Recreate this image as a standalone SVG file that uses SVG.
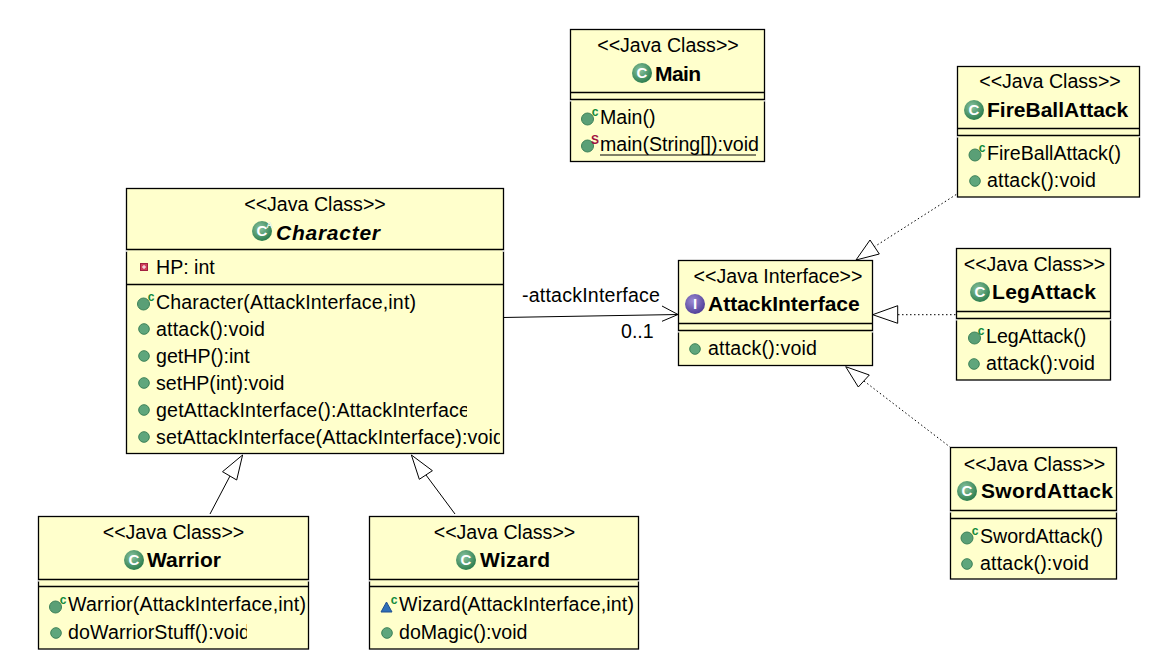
<svg xmlns="http://www.w3.org/2000/svg" width="1173" height="663" viewBox="0 0 1173 663">
<style>
text{font-family:"Liberation Sans",Arial,sans-serif;font-size:19.6px;fill:#000}
.st{text-anchor:middle}
.nm{font-size:21px;font-weight:bold}
.nmi{font-size:21px;font-weight:bold;font-style:italic}
.box{fill:#ffffcc;stroke:#000;stroke-width:1.3}
.sep{stroke:#000;stroke-width:1.3;fill:none}
.gap{stroke:#fff;stroke-width:2;fill:none}
.cn{stroke:#000;stroke-width:1;fill:none}
.dot{stroke:#000;stroke-width:1;fill:none;stroke-dasharray:1.5 2.5}
.tri{stroke:#000;stroke-width:1;fill:#fff}
.ic{font-size:15px;font-weight:bold;fill:#fff;text-anchor:middle}
.sup{font-size:12px;font-weight:bold;text-anchor:middle;fill:#118a3c}
.sup2{font-size:12px;font-weight:bold;text-anchor:middle;fill:#a01040}
</style>
<defs>
<radialGradient id="g" cx="0.4" cy="0.35" r="0.75"><stop offset="0" stop-color="#8cc4a0"/><stop offset="1" stop-color="#1f7342"/></radialGradient>
<radialGradient id="p" cx="0.4" cy="0.35" r="0.75"><stop offset="0" stop-color="#9d8cd4"/><stop offset="1" stop-color="#463590"/></radialGradient>
<g id="cls"><circle r="10" fill="url(#g)"/><text class="ic" y="5.3">C</text></g>
<g id="iface"><circle r="10" fill="url(#p)"/><text class="ic" y="5.300">I</text></g>
<circle id="m" r="5.300" fill="#5fa67c" stroke="#3c8158" stroke-width="1"/>
<circle id="k" r="6" fill="#5a9f76" stroke="#3c8158" stroke-width="1"/>
<clipPath id="c1b"><rect x="130" y="398" width="337" height="26"/></clipPath>
<clipPath id="c2"><rect x="130" y="425" width="370" height="26"/></clipPath>
<clipPath id="c3"><rect x="60" y="620" width="187" height="26"/></clipPath>
</defs>

<g id="connectors">
<path class="cn" d="M503 317.5L678 314.5M662 306L678 314.5L662 321.3"/>
<path class="dot" d="M874 247L957 194"/>
<path class="tri" d="M856 260L879.3 254L870 240Z"/>
<path class="dot" d="M898 314.7H956"/>
<path class="tri" d="M872.7 314.7L897.7 305.7V323.3Z"/>
<path class="dot" d="M864 381L950 447"/>
<path class="tri" d="M845.7 366.7L869.3 375L858.3 387Z"/>
<path class="cn" d="M230 476L210 514"/>
<path class="tri" d="M242.6 455L222.5 471.7L236.7 480Z"/>
<path class="cn" d="M426 475L455 514"/>
<path class="tri" d="M411.4 455L432.4 470.7L419.3 479.3Z"/>
</g>

<g id="node-main">
<rect class="box" x="570.5" y="29.5" width="194" height="132"/>
<path class="sep" d="M570.5 92.5H764.5M570.5 99.5H764.5"/>
<path class="gap" d="M570.5 100.300V101.500M764.500 100.300V101.500"/>
<text class="st" x="668" y="51.500">&lt;&lt;Java Class&gt;&gt;</text>
<use href="#cls" x="642" y="73"/>
<text class="nm" x="655" y="80.7" textLength="46">Main</text>
<use href="#k" x="587.500" y="119"/><text class="sup" x="595" y="116">c</text>
<text x="600" y="124">Main()</text>
<use href="#k" x="587.500" y="146"/><text class="sup2" x="595" y="144">S</text>
<text x="600" y="151">main(String[]):void</text>
<path class="cn" d="M600 155H756"/>
</g>

<g id="node-character">
<rect class="box" x="126.5" y="188.5" width="377" height="265"/>
<path class="sep" d="M126.5 249.5H503.5M126.5 284.5H503.5"/>
<path class="gap" d="M126.5 250.300V251.800M503.500 250.300V251.800"/>
<text class="st" x="315" y="210.7">&lt;&lt;Java Class&gt;&gt;</text>
<use href="#cls" x="262" y="231"/><text class="sup" x="269.500" y="228" style="font-size:9px;fill:#e8f4e8">A</text>
<text class="nmi" x="276" y="239.500" textLength="104">Character</text>
<rect x="140.500" y="263.500" width="7" height="7" fill="#d0405a" stroke="#a02040" stroke-width="1"/>
<path d="M142 267H146M144 265V269" stroke="#fff" stroke-width="1"/>
<text x="156" y="274">HP: int</text>
<use href="#k" x="143.500" y="304"/><text class="sup" x="151" y="301">c</text>
<text x="156" y="309" textLength="260">Character(AttackInterface,int)</text>
<use href="#m" x="144" y="329"/><text x="156" y="335.6" textLength="109">attack():void</text>
<use href="#m" x="144" y="356"/><text x="156" y="362.600">getHP():int</text>
<use href="#m" x="144" y="383"/><text x="156" y="389.600">setHP(int):void</text>
<use href="#m" x="144" y="410"/><text x="156" y="417" clip-path="url(#c1b)" textLength="314">getAttackInterface():AttackInterface</text>
<use href="#m" x="144" y="437"/><text x="156" y="444" clip-path="url(#c2)" textLength="348">setAttackInterface(AttackInterface):void</text>
</g>

<g id="node-warrior">
<rect class="box" x="38.5" y="516.5" width="270" height="132.5"/>
<path class="sep" d="M38.5 579.5H308.5M38.5 586.5H308.500"/>
<path class="gap" d="M38.5 580.300V581.500M308.500 580.300V581.500"/>
<text class="st" x="173.500" y="539">&lt;&lt;Java Class&gt;&gt;</text>
<use href="#cls" x="134" y="560"/>
<text class="nm" x="147" y="567">Warrior</text>
<use href="#k" x="55.500" y="607"/><text class="sup" x="63" y="604">c</text>
<text x="68" y="611" textLength="238">Warrior(AttackInterface,int)</text>
<use href="#m" x="56" y="633"/><text x="68" y="639" clip-path="url(#c3)" textLength="182">doWarriorStuff():void</text>
</g>

<g id="node-wizard">
<rect class="box" x="369.500" y="516.5" width="269" height="132.5"/>
<path class="sep" d="M369.500 579.5H638.5M369.500 586.5H638.500"/>
<path class="gap" d="M369.5 580.300V581.500M638.500 580.300V581.500"/>
<text class="st" x="504.500" y="539">&lt;&lt;Java Class&gt;&gt;</text>
<use href="#cls" x="466" y="560"/>
<text class="nm" x="480" y="567" textLength="70">Wizard</text>
<path d="M381 612L386.500 602L392 612Z" fill="#2f6fb8" stroke="#1f4f90" stroke-width="1"/><text class="sup" x="394" y="604">c</text>
<text x="399" y="611" textLength="235">Wizard(AttackInterface,int)</text>
<use href="#m" x="387" y="633"/><text x="399" y="639">doMagic():void</text>
</g>

<g id="node-attackinterface">
<rect class="box" x="678.5" y="260.5" width="194" height="105"/>
<path class="sep" d="M678.5 323.5H872.5M678.5 330.500H872.500"/>
<path class="gap" d="M678.5 331.300V332.500M872.500 331.300V332.500"/>
<text class="st" x="778" y="282.500">&lt;&lt;Java Interface&gt;&gt;</text>
<use href="#iface" x="695" y="304"/>
<text class="nm" x="708" y="310.7">AttackInterface</text>
<use href="#m" x="695" y="349"/><text x="708" y="355" textLength="109">attack():void</text>
</g>

<g id="node-fireballattack">
<rect class="box" x="957.5" y="66.5" width="182" height="130.5"/>
<path class="sep" d="M957.5 128.500H1139.5M957.5 135.500H1139.500"/>
<path class="gap" d="M957.5 136.300V137.500M1139.500 136.300V137.500"/>
<text class="st" x="1050" y="88">&lt;&lt;Java Class&gt;&gt;</text>
<use href="#cls" x="974" y="110"/>
<text class="nm" x="987" y="116.500">FireBallAttack</text>
<use href="#k" x="975" y="155"/><text class="sup" x="982" y="152">c</text>
<text x="987" y="159.500">FireBallAttack()</text>
<use href="#m" x="975" y="181"/><text x="987" y="187" textLength="109">attack():void</text>
</g>

<g id="node-legattack">
<rect class="box" x="956.5" y="248.5" width="154" height="131.5"/>
<path class="sep" d="M956.5 311.500H1110.5M956.5 318.500H1110.500"/>
<path class="gap" d="M956.5 319.300V320.500M1110.500 319.300V320.500"/>
<text class="st" x="1034.500" y="271">&lt;&lt;Java Class&gt;&gt;</text>
<use href="#cls" x="980" y="292"/>
<text class="nm" x="992" y="299" textLength="104">LegAttack</text>
<use href="#k" x="974.500" y="338"/><text class="sup" x="981" y="335">c</text>
<text x="986" y="343">LegAttack()</text>
<use href="#m" x="974" y="364"/><text x="986" y="370" textLength="109">attack():void</text>
</g>

<g id="node-swordattack">
<rect class="box" x="950.5" y="447.5" width="166" height="131.5"/>
<path class="sep" d="M950.5 510.500H1116.500M950.5 518.500H1116.500"/>
<path class="gap" d="M950.5 511.300V512.500M1116.500 511.300V512.500"/>
<text class="st" x="1034.500" y="470.500">&lt;&lt;Java Class&gt;&gt;</text>
<use href="#cls" x="967" y="491"/>
<text class="nm" x="981" y="498" textLength="132">SwordAttack</text>
<use href="#k" x="967" y="538"/><text class="sup" x="975" y="535">c</text>
<text x="980" y="543">SwordAttack()</text>
<use href="#m" x="967" y="564"/><text x="980" y="570" textLength="109">attack():void</text>
</g>

<g id="labels">
<text x="522" y="301.500" textLength="138">-attackInterface</text>
<text x="621" y="338.300">0..1</text>
</g>
</svg>
